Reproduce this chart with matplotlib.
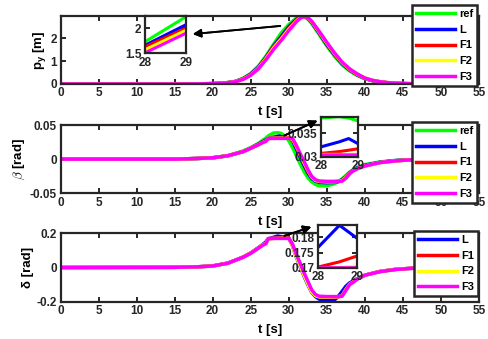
import matplotlib
matplotlib.use('Agg')
import matplotlib.pyplot as plt
import matplotlib.ticker as mtick

plt.rcParams['font.family'] = ['Liberation Sans', 'DejaVu Sans']
plt.rcParams['font.weight'] = 'bold'
plt.rcParams['axes.labelweight'] = 'bold'
plt.rcParams['font.size'] = 8
plt.rcParams['axes.unicode_minus'] = False
plt.rcParams['mathtext.fontset'] = 'custom'
plt.rcParams['mathtext.rm'] = 'Liberation Sans:bold'
plt.rcParams['mathtext.bf'] = 'Liberation Sans:bold'
plt.rcParams['mathtext.it'] = 'Liberation Sans:bold:italic'

# ---------------- data ----------------
t1 = [0, 15, 18, 20, 21, 22, 23, 24, 25, 26, 27, 28, 29, 30, 31, 31.5, 32, 32.5, 33, 34,
      35, 36, 37, 38, 39, 40, 41, 42, 43, 44, 45, 47, 50, 55]
py_ref = [0, 0, 0.006, 0.02, 0.035, 0.065, 0.12, 0.25, 0.46, 0.78, 1.22, 1.73, 2.23, 2.6, 2.88, 2.95, 2.93,
          2.84, 2.65, 2.16, 1.66, 1.22, 0.84, 0.57, 0.37, 0.23, 0.14, 0.085, 0.05, 0.03, 0.017, 0.006, 0.001, 0]
py_L = [0, 0, 0.006, 0.018, 0.033, 0.06, 0.11, 0.23, 0.43, 0.73, 1.16, 1.66, 2.07, 2.5, 2.82, 2.92, 2.95,
        2.87, 2.7, 2.22, 1.72, 1.28, 0.89, 0.61, 0.4, 0.24, 0.15, 0.09, 0.055, 0.032, 0.019, 0.007, 0.001, 0]
py_F1 = [0, 0, 0.005, 0.017, 0.032, 0.058, 0.105, 0.22, 0.41, 0.7, 1.13, 1.63, 2.0, 2.44, 2.79, 2.91, 2.95,
         2.88, 2.72, 2.25, 1.76, 1.31, 0.92, 0.63, 0.41, 0.25, 0.155, 0.095, 0.057, 0.033, 0.019, 0.007, 0.001, 0]
py_F2 = [0, 0, 0.005, 0.016, 0.031, 0.056, 0.1, 0.21, 0.39, 0.68, 1.1, 1.57, 1.96, 2.38, 2.75, 2.89, 2.95,
         2.89, 2.74, 2.28, 1.79, 1.34, 0.94, 0.65, 0.43, 0.26, 0.16, 0.1, 0.06, 0.034, 0.02, 0.008, 0.002, 0]
py_F3 = [0, 0, 0.005, 0.015, 0.03, 0.055, 0.1, 0.2, 0.38, 0.66, 1.06, 1.51, 1.9, 2.33, 2.72, 2.87, 2.95,
         2.9, 2.75, 2.3, 1.82, 1.36, 0.96, 0.66, 0.44, 0.26, 0.16, 0.1, 0.06, 0.035, 0.02, 0.008, 0.002, 0]

t2 = [0, 15, 18, 20, 22, 24, 25, 26, 26.5, 27, 27.3, 28, 28.5, 28.75, 29, 29.5, 30, 30.5, 31, 31.5,
      32, 32.5, 33, 33.5, 34, 35, 36, 36.5, 37, 37.5, 38, 38.5, 39, 40, 42, 44, 46, 50, 55]
beta_ref = [0, 0, 0.001, 0.002, 0.005, 0.012, 0.017, 0.023, 0.027, 0.031, 0.034, 0.0383, 0.0386, 0.0383,
            0.0377, 0.034, 0.027, 0.017, 0.005, -0.007, -0.018, -0.027, -0.033, -0.037, -0.039, -0.039,
            -0.036, -0.033, -0.029, -0.024, -0.019, -0.015, -0.012, -0.008, -0.004, -0.002, -0.001, 0, 0]
beta_L = [0, 0, 0.001, 0.002, 0.005, 0.011, 0.016, 0.022, 0.025, 0.028, 0.030, 0.0321, 0.0332, 0.0339,
          0.0328, 0.032, 0.031, 0.027, 0.015, 0.003, -0.009, -0.02, -0.028, -0.032, -0.034, -0.0345,
          -0.034, -0.033, -0.030, -0.026, -0.02, -0.016, -0.013, -0.009, -0.0045, -0.002, -0.001, 0, 0]
beta_F1 = [0, 0, 0.001, 0.002, 0.005, 0.011, 0.016, 0.021, 0.024, 0.027, 0.0302, 0.0307, 0.0311, 0.0314,
           0.0317, 0.0317, 0.0312, 0.0285, 0.018, 0.006, -0.006, -0.018, -0.026, -0.031, -0.033, -0.0335,
           -0.033, -0.0325, -0.031, -0.027, -0.021, -0.017, -0.014, -0.01, -0.005, -0.0025, -0.001, 0, 0]
beta_F2 = [0, 0, 0.001, 0.002, 0.005, 0.011, 0.016, 0.021, 0.024, 0.0265, 0.0303, 0.0305, 0.0305, 0.0305,
           0.0305, 0.0305, 0.0305, 0.029, 0.019, 0.007, -0.005, -0.016, -0.026, -0.031, -0.0325, -0.033,
           -0.033, -0.0325, -0.0315, -0.027, -0.021, -0.017, -0.014, -0.01, -0.005, -0.0025, -0.001, 0, 0]
beta_F3 = [0, 0, 0.001, 0.002, 0.005, 0.011, 0.016, 0.021, 0.024, 0.026, 0.0303, 0.0304, 0.0304, 0.0304,
           0.0304, 0.0304, 0.0304, 0.0302, 0.02, 0.008, -0.003, -0.015, -0.025, -0.03, -0.032, -0.0325,
           -0.0325, -0.0325, -0.0322, -0.028, -0.021, -0.017, -0.014, -0.01, -0.005, -0.0025, -0.001, 0, 0]

t3 = [0, 15, 18, 20, 22, 24, 25, 26, 26.5, 27, 27.3, 28, 28.55, 29, 29.5, 30, 30.5, 31, 31.5, 32,
      32.5, 33, 33.5, 34, 35, 36, 36.5, 37, 37.5, 38, 38.5, 39, 40, 42, 44, 46, 50, 55]
delta_L = [0, 0.001, 0.004, 0.009, 0.026, 0.061, 0.085, 0.116, 0.132, 0.15, 0.168, 0.1767, 0.1839, 0.1797,
           0.176, 0.172, 0.125, 0.06, 0.005, -0.05, -0.1, -0.145, -0.17, -0.185, -0.195, -0.19, -0.17,
           -0.14, -0.11, -0.09, -0.078, -0.065, -0.045, -0.023, -0.011, -0.005, -0.001, 0]
delta_F1 = [0, 0.001, 0.004, 0.009, 0.025, 0.06, 0.084, 0.114, 0.13, 0.143, 0.168, 0.1703, 0.172, 0.1739,
            0.1745, 0.173, 0.132, 0.07, 0.018, -0.036, -0.087, -0.135, -0.162, -0.172, -0.175, -0.174,
            -0.172, -0.165, -0.128, -0.097, -0.083, -0.067, -0.045, -0.023, -0.011, -0.005, -0.001, 0]
delta_F2 = [0, 0.001, 0.004, 0.009, 0.025, 0.06, 0.084, 0.114, 0.13, 0.142, 0.169, 0.17, 0.1702, 0.1706,
            0.1708, 0.17, 0.125, 0.063, 0.01, -0.045, -0.095, -0.142, -0.165, -0.172, -0.173, -0.172,
            -0.171, -0.166, -0.13, -0.098, -0.084, -0.067, -0.045, -0.023, -0.011, -0.005, -0.001, 0]
delta_F3 = [0, 0.001, 0.004, 0.009, 0.025, 0.06, 0.083, 0.113, 0.128, 0.14, 0.1695, 0.1701, 0.1701, 0.1701,
            0.1701, 0.1701, 0.135, 0.075, 0.024, -0.03, -0.08, -0.13, -0.158, -0.168, -0.17, -0.17,
            -0.17, -0.168, -0.135, -0.1, -0.085, -0.068, -0.045, -0.024, -0.012, -0.005, -0.001, 0]

names = ['ref', 'L', 'F1', 'F2', 'F3']
colors = {'ref': '#00ff00', 'L': '#0000ff', 'F1': '#ff0000', 'F2': '#ffff00', 'F3': '#ff00ff'}

W, H = 488, 339


def fig_rect(x0, y0, x1, y1):
    # pixel box (top-left origin) -> figure fraction rect
    return [x0 / W, 1 - y1 / H, (x1 - x0) / W, (y1 - y0) / H]


def style_axes(ax):
    for sp in ax.spines.values():
        sp.set_linewidth(1.6)
        sp.set_color('#262626')
    ax.tick_params(direction='in', top=True, right=True, width=1.4, length=3.5,
                   labelsize=8.5, pad=2.5, colors='#262626')
    for lab in ax.get_xticklabels() + ax.get_yticklabels():
        lab.set_fontweight('bold')


fig = plt.figure(figsize=(W / 100, H / 100), dpi=100)

panels = [
    (t1, {'ref': py_ref, 'L': py_L, 'F1': py_F1, 'F2': py_F2, 'F3': py_F3},
     fig_rect(60.5, 16, 479, 84), (0, 2.97), [0, 1, 2], 'p$_\\mathbf{y}$ [m]', None),
    (t2, {'ref': beta_ref, 'L': beta_L, 'F1': beta_F1, 'F2': beta_F2, 'F3': beta_F3},
     fig_rect(60.5, 125, 479, 193.3), (-0.05, 0.05), [-0.05, 0, 0.05], r'$\beta$ [rad]', 'cm'),
    (t3, {'L': delta_L, 'F1': delta_F1, 'F2': delta_F2, 'F3': delta_F3},
     fig_rect(60.5, 233.3, 479, 301.7), (-0.2, 0.2), [-0.2, 0, 0.2], 'δ [rad]', None),
]
insets = [
    (fig_rect(145, 15.7, 186, 53.3), (1.5, 2.25), [1.5, 2]),
    (fig_rect(320.7, 116.7, 358, 156.7), (0.03, 0.0386), [0.03, 0.035]),
    (fig_rect(318, 225, 357, 268), (0.17, 0.184), [0.17, 0.175, 0.18]),
]
legend_pos = [(412, 5), (412, 122), (414, 231)]
arrows = [((283, 25.7), (190, 34.3)), ((281.7, 136.7), (320, 119.5)), ((281.7, 236.7), (314, 226))]

for (t, series, rect, ylim, yticks, ylabel, mfont), (irect, iylim, iyticks), lp, arr in \
        zip(panels, insets, legend_pos, arrows):
    ax = fig.add_axes(rect)
    for n in names:
        if n in series:
            ax.plot(t, series[n], color=colors[n], lw=2.5, label=n)
    ax.set_xlim(0, 55)
    ax.set_ylim(*ylim)
    ax.set_xticks(range(0, 56, 5))
    ax.set_yticks(yticks)
    ax.yaxis.set_major_formatter(mtick.FormatStrFormatter('%g'))
    ax.set_xlabel('t [s]', fontsize=9.5, labelpad=5)
    if mfont:
        ax.set_ylabel(ylabel, fontsize=9.5, math_fontfamily=mfont, labelpad=2)
    else:
        ax.set_ylabel(ylabel, fontsize=9.5, labelpad=2)
    style_axes(ax)

    leg = ax.legend(loc='upper left', bbox_to_anchor=(lp[0] / W, 1 - lp[1] / H),
                    bbox_transform=fig.transFigure, borderaxespad=0, fancybox=False,
                    edgecolor='#262626', framealpha=1, handlelength=3.5, handletextpad=0.4,
                    labelspacing=0.52, borderpad=0.35, prop={'weight': 'bold', 'size': 8})
    leg.get_frame().set_linewidth(1.8)
    leg.set_zorder(20)

    ia = fig.add_axes(irect)
    for n in names:
        if n in series:
            ia.plot(t, series[n], color=colors[n], lw=2.2)
    ia.set_xlim(28, 29)
    ia.set_ylim(*iylim)
    ia.set_xticks([28, 29])
    ia.set_yticks(iyticks)
    ia.yaxis.set_major_formatter(mtick.FormatStrFormatter('%g'))
    style_axes(ia)
    ia.set_zorder(10)

    fig.add_artist(plt.annotate('', xy=(arr[1][0] / W, 1 - arr[1][1] / H), xycoords='figure fraction',
                                xytext=(arr[0][0] / W, 1 - arr[0][1] / H), textcoords='figure fraction',
                                arrowprops=dict(arrowstyle='-|>', color='black', lw=1.3,
                                                mutation_scale=12)))

fig.savefig('out.png', dpi=100)
